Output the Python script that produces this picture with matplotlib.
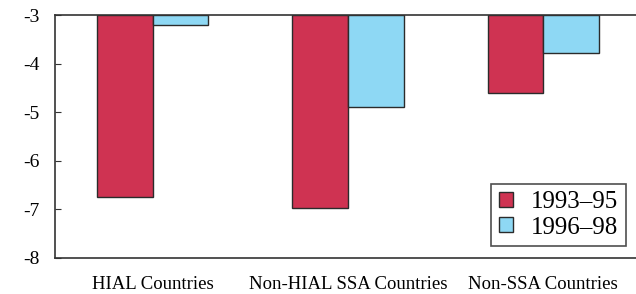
import numpy as np
import matplotlib
matplotlib.use("Agg")
import matplotlib.pyplot as plt

categories = ["HIAL Countries", "Non-HIAL SSA Countries", "Non-SSA Countries"]
period1 = [-6.75, -6.97, -4.6]
period2 = [-3.2, -4.9, -3.78]
labels = ["1993\u201395", "1996\u201398"]
yticks = [-3, -4, -5, -6, -7, -8]

plt.rcParams['font.family'] = ['Liberation Serif', 'DejaVu Serif']

fig = plt.figure(figsize=(6.36, 2.94), dpi=100)
# axes runs past the right edge of the picture, like the original crop
ax = fig.add_axes([55 / 636, 36 / 294, 586 / 636, 243 / 294])

x = np.arange(len(categories))
w = 0.285
base = -3
ax.bar(x - w / 2, np.array(period1) - base, bottom=base, width=w,
       color="#cf3352", edgecolor="#2b2b2b", linewidth=1.0, label=labels[0])
ax.bar(x + w / 2, np.array(period2) - base, bottom=base, width=w,
       color="#8ed8f4", edgecolor="#2b2b2b", linewidth=1.0, label=labels[1])

ax.set_xlim(-0.5, 2.5)
ax.set_ylim(-8, -3)
ax.set_yticks(yticks)
ax.set_yticklabels([str(t) for t in yticks], fontsize=14)
ax.set_xticks(x)
ax.set_xticklabels(categories, fontsize=13.5)
ax.tick_params(axis='x', length=0, pad=13)
ax.tick_params(axis='y', direction='in', length=4, pad=11, color="#333333")

for s in ['left', 'bottom', 'top']:
    ax.spines[s].set_color("#333333")
    ax.spines[s].set_linewidth(1.2)
ax.spines['right'].set_visible(False)

leg = ax.legend(loc='lower right', bbox_to_anchor=(626 / 636, 48 / 294),
                bbox_transform=fig.transFigure, fontsize=18, borderaxespad=0,
                frameon=True, fancybox=False, edgecolor="#222222",
                handlelength=0.55, handleheight=0.55, handletextpad=0.75,
                borderpad=0.3, labelspacing=0.12)
leg.get_frame().set_linewidth(1.2)

fig.savefig("out.png", dpi=100)
